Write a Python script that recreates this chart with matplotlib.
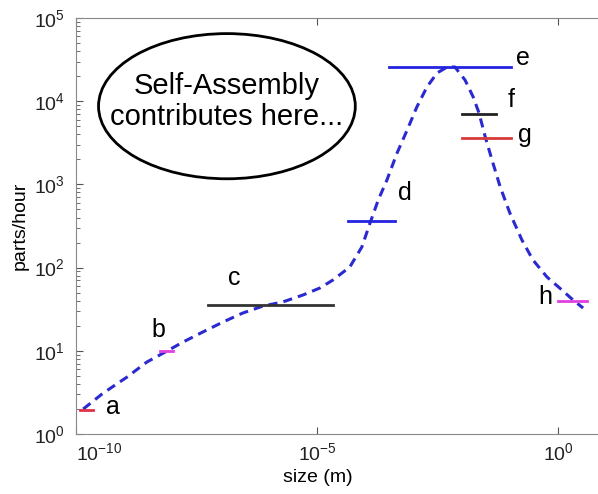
import numpy as np
import matplotlib.pyplot as plt
from matplotlib.patches import Ellipse

plt.rcParams['font.family'] = ['Liberation Sans', 'DejaVu Sans']

# dashed trend curve (log10 size, log10 parts/hour)
curve_logx = [-9.85, -9.44, -8.94, -8.53, -8.15, -7.78, -7.37, -6.95, -6.54, -6.12,
              -5.71, -5.29, -4.94, -4.67, -4.32, -4.07, -3.90, -3.73, -3.55, -3.34,
              -3.13, -2.93, -2.72, -2.51, -2.30, -2.14, -1.93, -1.76, -1.64, -1.51,
              -1.37, -1.20, -1.00, -0.75, -0.52, -0.23, 0.08, 0.31, 0.52]
curve_logy = [0.30, 0.49, 0.685, 0.865, 0.985, 1.105, 1.226, 1.346, 1.454, 1.538,
              1.587, 1.671, 1.755, 1.851, 2.007, 2.248, 2.536, 2.813, 3.053, 3.377,
              3.654, 3.930, 4.171, 4.339, 4.411, 4.411, 4.255, 4.050, 3.858, 3.570,
              3.293, 2.969, 2.656, 2.332, 2.091, 1.887, 1.731, 1.611, 1.514]

# horizontal ranges a..h
seg_names = ['a', 'b', 'c', 'd', 'e', 'f', 'g', 'h']
seg_x0 = [-9.92, -8.26, -7.26, -4.36, -3.51, -1.99, -1.99, 0.0]
seg_x1 = [-9.65, -7.99, -4.67, -3.38, -0.98, -1.29, -0.98, 0.6]
seg_y = [1.95, 10, 35.5, 363, 25700, 7050, 3620, 40]
seg_colors = ['#e0304a', '#e040e0', '#333333', '#2424e0', '#2424e0', '#222222', '#d83a3a', '#e040e0']
label_logx = [-9.23, -8.30, -6.72, -3.17, -0.73, -0.98, -0.68, -0.27]
label_logy = [0.325, 1.25, 1.875, 2.90, 4.52, 4.01, 3.59, 1.65]

fig = plt.figure(figsize=(5.98, 4.94), dpi=100)
ax = fig.add_axes([76 / 598, 60 / 494, 524 / 598, 416 / 494])

ax.plot(10 ** np.array(curve_logx), 10 ** np.array(curve_logy), color='#2a2ad0',
        lw=2.2, linestyle=(0, (3, 2)))

for i in range(len(seg_names)):
    ax.plot([10 ** seg_x0[i], 10 ** seg_x1[i]], [seg_y[i], seg_y[i]], color=seg_colors[i], lw=2)
    ax.text(10 ** label_logx[i], 10 ** label_logy[i], seg_names[i], fontsize=18,
            ha='center', va='center')

ax.set_xscale('log')
ax.set_yscale('log')
ax.set_xlim(1e-10, 10 ** 0.87)
ax.set_ylim(1, 1e5)
ax.set_xticks([1e-10, 1e-5, 1e0])
ax.xaxis.set_minor_locator(plt.NullLocator())
ax.tick_params(which='both', direction='in', top=True, right=False, labelsize=14, colors='#555555',
               labelcolor='#222222')
ax.tick_params(axis='y', which='major', length=5, pad=8)
ax.tick_params(axis='y', which='minor', length=3)
ax.tick_params(axis='x', length=5, pad=6)
for s in ax.spines.values():
    s.set_color('#888888')
ax.spines['right'].set_visible(False)

ax.set_xlabel('size (m)', fontsize=14, labelpad=6)
ax.xaxis.set_label_coords(0.462, -0.085)
ax.set_ylabel('parts/hour', fontsize=14, labelpad=4)

ax.add_patch(Ellipse((0.288, 0.788), 0.49, 0.349, transform=ax.transAxes,
                     fill=False, edgecolor='black', lw=2))
ax.text(0.288, 0.80, 'Self-Assembly\ncontributes here...', transform=ax.transAxes,
        fontsize=21, ha='center', va='center', linespacing=1.15)

fig.canvas.draw()
ax.get_xticklabels()[0].set_horizontalalignment('left')

fig.savefig('out.png', dpi=100)
